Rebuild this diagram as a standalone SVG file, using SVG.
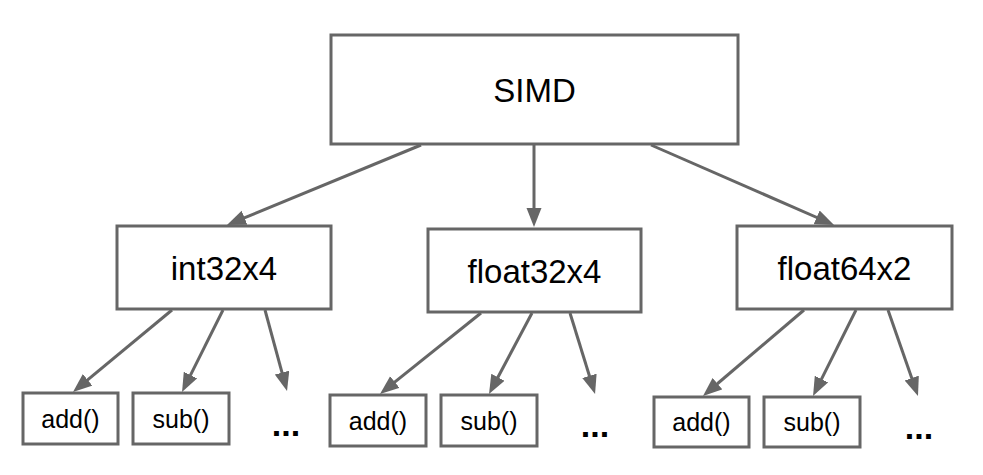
<svg xmlns="http://www.w3.org/2000/svg" width="983" height="475" viewBox="0 0 983 475">
<style>
.box{fill:#fff;stroke:#666;stroke-width:3}
.lbl{font-family:"Liberation Sans",Arial,sans-serif;fill:#000;text-anchor:middle}
.big{font-size:33px}
.small{font-size:25px}
.dots{font-size:34px;font-weight:bold}
.conn line{stroke:#666;stroke-width:3;marker-end:url(#arr)}
</style>
<defs>
<marker id="arr" markerUnits="userSpaceOnUse" markerWidth="20" markerHeight="16" refX="9" refY="7.5" orient="auto">
<path d="M0,0 L19,7.5 L0,15 z" fill="#666"/>
</marker>
</defs>
<rect width="983" height="475" fill="#fff"/>
<g class="conn" id="connectors">
<line x1="421" y1="145" x2="236.2" y2="221.2"/>
<line x1="534" y1="145" x2="534" y2="217"/>
<line x1="651" y1="145" x2="824.9" y2="221"/>
<line x1="172" y1="310" x2="80.7" y2="385.6"/>
<line x1="223" y1="310" x2="186.5" y2="383.1"/>
<line x1="265" y1="310" x2="284.4" y2="381.3"/>
<line x1="481" y1="313" x2="387.8" y2="387.7"/>
<line x1="532" y1="313" x2="493.7" y2="385.2"/>
<line x1="570" y1="313" x2="592.1" y2="384.5"/>
<line x1="804" y1="310" x2="710.6" y2="389.5"/>
<line x1="856" y1="310" x2="817.5" y2="387.1"/>
<line x1="888" y1="310" x2="914.7" y2="386.6"/>
</g>
<g id="simd"><rect class="box" x="331" y="35" width="407" height="109"/><text class="lbl big" x="534.5" y="102">SIMD</text></g>
<g id="int32x4"><rect class="box" x="117" y="226" width="214" height="83"/><text class="lbl big" x="224" y="280">int32x4</text></g>
<g id="float32x4"><rect class="box" x="428" y="229" width="213" height="83"/><text class="lbl big" x="534.5" y="283">float32x4</text></g>
<g id="float64x2"><rect class="box" x="737" y="226" width="215" height="83"/><text class="lbl big" x="844.5" y="280">float64x2</text></g>
<g id="int-add"><rect class="box" x="23" y="393" width="95" height="51"/><text class="lbl small" x="70.5" y="428">add()</text></g>
<g id="int-sub"><rect class="box" x="133" y="393" width="96" height="51"/><text class="lbl small" x="181" y="428">sub()</text></g>
<g id="int-more"><text class="lbl dots" x="286" y="436">...</text></g>
<g id="f32-add"><rect class="box" x="330" y="395" width="96" height="51"/><text class="lbl small" x="378" y="430">add()</text></g>
<g id="f32-sub"><rect class="box" x="441" y="395" width="96" height="51"/><text class="lbl small" x="489" y="430">sub()</text></g>
<g id="f32-more"><text class="lbl dots" x="595" y="437">...</text></g>
<g id="f64-add"><rect class="box" x="654" y="397" width="95" height="50"/><text class="lbl small" x="701.5" y="431">add()</text></g>
<g id="f64-sub"><rect class="box" x="764" y="397" width="96" height="50"/><text class="lbl small" x="812" y="431">sub()</text></g>
<g id="f64-more"><text class="lbl dots" x="919" y="439">...</text></g>
</svg>
